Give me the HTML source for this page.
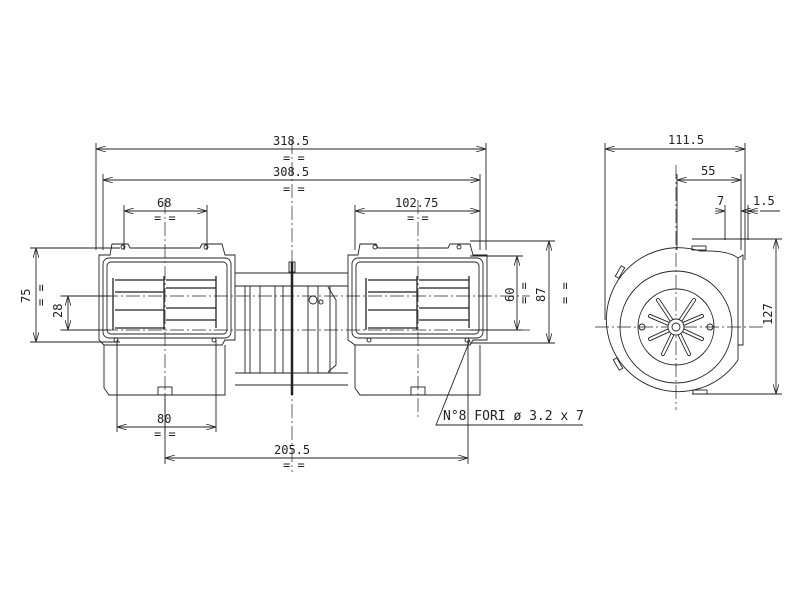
<!DOCTYPE html>
<html><head><meta charset="utf-8"><style>
html,body{margin:0;padding:0;background:#fff;}
svg{display:block;}
text{font-family:"DejaVu Sans Mono","Liberation Mono",monospace;font-size:12px;fill:#222;}
</style></head><body>
<svg width="800" height="600" viewBox="0 0 800 600" xmlns="http://www.w3.org/2000/svg">
<defs>
<marker id="a" markerWidth="10" markerHeight="6" refX="10" refY="3" orient="auto-start-reverse" markerUnits="userSpaceOnUse"><path d="M0,0 L10,3 L0,6" fill="none" stroke="#222" stroke-width="0.8"/></marker>
</defs>
<g stroke="#222" stroke-width="0.9" fill="none">
<line x1="96" y1="143" x2="96" y2="250"/><line x1="486" y1="143" x2="486" y2="250"/>
<line x1="103" y1="174" x2="103" y2="250"/><line x1="480" y1="174" x2="480" y2="250"/>
<line x1="124" y1="205" x2="124" y2="250"/><line x1="207" y1="205" x2="207" y2="250"/>
<line x1="355" y1="205" x2="355" y2="250"/>
<line x1="117" y1="340" x2="117" y2="432"/><line x1="216" y1="340" x2="216" y2="432"/>
<line x1="165" y1="395" x2="165" y2="464"/><line x1="468" y1="340" x2="468" y2="464"/>
<line x1="30" y1="248" x2="120" y2="248"/><line x1="30" y1="342" x2="120" y2="342"/>
<line x1="62" y1="296" x2="110" y2="296"/><line x1="62" y1="330" x2="110" y2="330"/>
<line x1="470" y1="256" x2="523" y2="256"/><line x1="470" y1="330" x2="523" y2="330"/>
<line x1="470" y1="241" x2="555" y2="241"/><line x1="470" y1="343" x2="555" y2="343"/>
<line x1="96" y1="149" x2="486" y2="149" marker-start="url(#a)" marker-end="url(#a)"/>
<line x1="103" y1="180" x2="480" y2="180" marker-start="url(#a)" marker-end="url(#a)"/>
<line x1="124" y1="211" x2="207" y2="211" marker-start="url(#a)" marker-end="url(#a)"/>
<line x1="355" y1="211" x2="480" y2="211" marker-start="url(#a)" marker-end="url(#a)"/>
<line x1="117" y1="427" x2="216" y2="427" marker-start="url(#a)" marker-end="url(#a)"/>
<line x1="165" y1="458" x2="468" y2="458" marker-start="url(#a)" marker-end="url(#a)"/>
<line x1="36" y1="248" x2="36" y2="342" marker-start="url(#a)" marker-end="url(#a)"/>
<line x1="68" y1="296" x2="68" y2="330" marker-start="url(#a)" marker-end="url(#a)"/>
<line x1="517" y1="256" x2="517" y2="330" marker-start="url(#a)" marker-end="url(#a)"/>
<line x1="549" y1="241" x2="549" y2="343" marker-start="url(#a)" marker-end="url(#a)"/>
<g stroke-dasharray="14,3,2,3" stroke-width="0.7">
<line x1="292" y1="140" x2="292" y2="472"/>
<line x1="165" y1="200" x2="165" y2="440"/>
<line x1="418" y1="200" x2="418" y2="420"/>
<line x1="60" y1="296" x2="530" y2="296"/>
<line x1="60" y1="330" x2="530" y2="330"/>
<line x1="676" y1="165" x2="676" y2="410"/>
<line x1="595" y1="327" x2="765" y2="327"/>
</g>
<path d="M99,255 L110,255 L112,244 L128,244 L130,248 L200,248 L202,244 L222,244 L225,255 L235,255 L235,340 L225,340 L222,345 L104,345 L99,340 Z"/>
<rect x="103" y="258" width="128" height="80" rx="6"/>
<rect x="107" y="262" width="120" height="72" rx="4"/>
<path d="M104,345 L104,388 L109,395 L225,395 L225,345"/>
<g stroke-width="1.3">
<line x1="113" y1="278" x2="113" y2="330"/><line x1="164" y1="276" x2="164" y2="330"/><line x1="216" y1="276" x2="216" y2="328"/>
<line x1="115" y1="280" x2="164" y2="280"/><line x1="115" y1="292" x2="164" y2="292"/><line x1="115" y1="310" x2="164" y2="310"/><line x1="115" y1="328" x2="164" y2="328"/>
<line x1="166" y1="280" x2="216" y2="280"/><line x1="166" y1="288" x2="216" y2="288"/><line x1="166" y1="308" x2="216" y2="308"/><line x1="166" y1="320" x2="216" y2="320"/>
</g>
<circle cx="123" cy="247" r="2"/><circle cx="206" cy="247" r="2"/><circle cx="116" cy="340" r="2"/><circle cx="214" cy="340" r="2"/>
<rect x="158" y="387" width="14" height="8"/>
<path d="M348,255 L358,255 L360,244 L376,244 L378,248 L448,248 L450,244 L470,244 L473,255 L487,255 L487,340 L473,340 L470,345 L355,345 L348,340 Z"/>
<rect x="352" y="258" width="131" height="80" rx="6"/>
<rect x="356" y="262" width="123" height="72" rx="4"/>
<path d="M355,345 L355,388 L360,395 L480,395 L480,345"/>
<g stroke-width="1.3">
<line x1="366" y1="278" x2="366" y2="330"/><line x1="417" y1="276" x2="417" y2="330"/><line x1="469" y1="276" x2="469" y2="328"/>
<line x1="368" y1="280" x2="417" y2="280"/><line x1="368" y1="292" x2="417" y2="292"/><line x1="368" y1="310" x2="417" y2="310"/><line x1="368" y1="328" x2="417" y2="328"/>
<line x1="419" y1="280" x2="469" y2="280"/><line x1="419" y1="288" x2="469" y2="288"/><line x1="419" y1="308" x2="469" y2="308"/><line x1="419" y1="320" x2="469" y2="320"/>
</g>
<circle cx="375" cy="247" r="2"/><circle cx="459" cy="247" r="2"/><circle cx="369" cy="340" r="2"/><circle cx="467" cy="340" r="2"/>
<rect x="411" y="387" width="14" height="8"/>
<path d="M235,273 L348,273 M235,286 L348,286 M235,373 L348,373 M235,385 L348,385"/>
<path d="M245,286 L245,373 M250,286 L250,373 M260,286 L260,373 M275,286 L275,373 M283,286 L283,373 M308,286 L308,373 M318,286 L318,373 M330,286 L330,373"/>
<path d="M328,287 L336,300 L336,365 L328,372"/>
<circle cx="313" cy="300" r="4"/><circle cx="321" cy="302" r="2"/>
<rect x="289" y="262" width="6" height="10"/>
<line x1="292" y1="262" x2="292" y2="395" stroke-width="2.5"/>
<path d="M470,340 L436,425 L583,425"/>
<line x1="605" y1="143" x2="605" y2="320"/><line x1="745" y1="143" x2="745" y2="260"/>
<line x1="741" y1="174" x2="741" y2="250"/><line x1="677" y1="174" x2="677" y2="250"/>
<line x1="725" y1="205" x2="725" y2="240"/><line x1="748" y1="205" x2="748" y2="240"/>
<line x1="605" y1="149" x2="745" y2="149" marker-start="url(#a)" marker-end="url(#a)"/>
<line x1="677" y1="180" x2="741" y2="180" marker-start="url(#a)" marker-end="url(#a)"/>
<line x1="715" y1="211" x2="725" y2="211" marker-end="url(#a)"/><line x1="755" y1="211" x2="741" y2="211" marker-end="url(#a)"/>
<line x1="760" y1="211" x2="780" y2="211"/><line x1="758" y1="211" x2="748" y2="211" marker-end="url(#a)"/>
<line x1="692" y1="239" x2="782" y2="239"/><line x1="692" y1="394" x2="782" y2="394"/>
<line x1="776" y1="239" x2="776" y2="394" marker-start="url(#a)" marker-end="url(#a)"/>
<path d="M738,360 A72,72 0 1,1 700,251 Q728,250 738,258 Z"/>
<path d="M738,258 L743,255 L743,345 L738,345"/>
<circle cx="676" cy="327" r="56"/>
<circle cx="676" cy="327" r="38"/>
<g stroke-width="4" stroke-linecap="round">
<line x1="676" y1="327" x2="694" y2="300"/><line x1="676" y1="327" x2="658" y2="300"/>
<line x1="676" y1="327" x2="702" y2="316"/><line x1="676" y1="327" x2="650" y2="316"/>
<line x1="676" y1="327" x2="702" y2="339"/><line x1="676" y1="327" x2="650" y2="339"/>
<line x1="676" y1="327" x2="689" y2="354"/><line x1="676" y1="327" x2="663" y2="354"/>
</g>
<g stroke="#fff" stroke-width="2.3" stroke-linecap="round">
<line x1="676" y1="327" x2="694" y2="300"/><line x1="676" y1="327" x2="658" y2="300"/>
<line x1="676" y1="327" x2="702" y2="316"/><line x1="676" y1="327" x2="650" y2="316"/>
<line x1="676" y1="327" x2="702" y2="339"/><line x1="676" y1="327" x2="650" y2="339"/>
<line x1="676" y1="327" x2="689" y2="354"/><line x1="676" y1="327" x2="663" y2="354"/>
</g>
<circle cx="676" cy="327" r="8" fill="#fff"/><circle cx="676" cy="327" r="4"/>
<circle cx="642" cy="327" r="3"/><circle cx="710" cy="327" r="3"/>
<rect x="618" y="266" width="4" height="12" transform="rotate(30 620 272)"/>
<rect x="616" y="358" width="4" height="12" transform="rotate(-30 618 364)"/>
<rect x="692" y="246" width="14" height="4"/><rect x="693" y="390" width="14" height="4"/>
</g>
<text x="273" y="145">318.5</text><text x="283" y="162">= =</text>
<text x="273" y="176">308.5</text><text x="283" y="193">= =</text>
<text x="157" y="207">68</text><text x="154" y="222">= =</text>
<text x="395" y="207">102.75</text><text x="407" y="222">= =</text>
<text x="157" y="423">80</text><text x="154" y="438">= =</text>
<text x="274" y="454">205.5</text><text x="283" y="469">= =</text>
<text x="443" y="420" style="font-size:13px">N°8 FORI ø 3.2 x 7</text>
<text x="668" y="144">111.5</text>
<text x="701" y="175">55</text>
<text x="717" y="205">7</text>
<text x="753" y="205">1.5</text>
<text transform="translate(30,303) rotate(-90)">75</text>
<text transform="translate(45,306) rotate(-90)">= =</text>
<text transform="translate(62,318) rotate(-90)">28</text>
<text transform="translate(514,302) rotate(-90)">60</text>
<text transform="translate(528,304) rotate(-90)">= =</text>
<text transform="translate(545,302) rotate(-90)">87</text>
<text transform="translate(569,304) rotate(-90)">= =</text>
<text transform="translate(772,325) rotate(-90)">127</text>
</svg>
</body></html>
